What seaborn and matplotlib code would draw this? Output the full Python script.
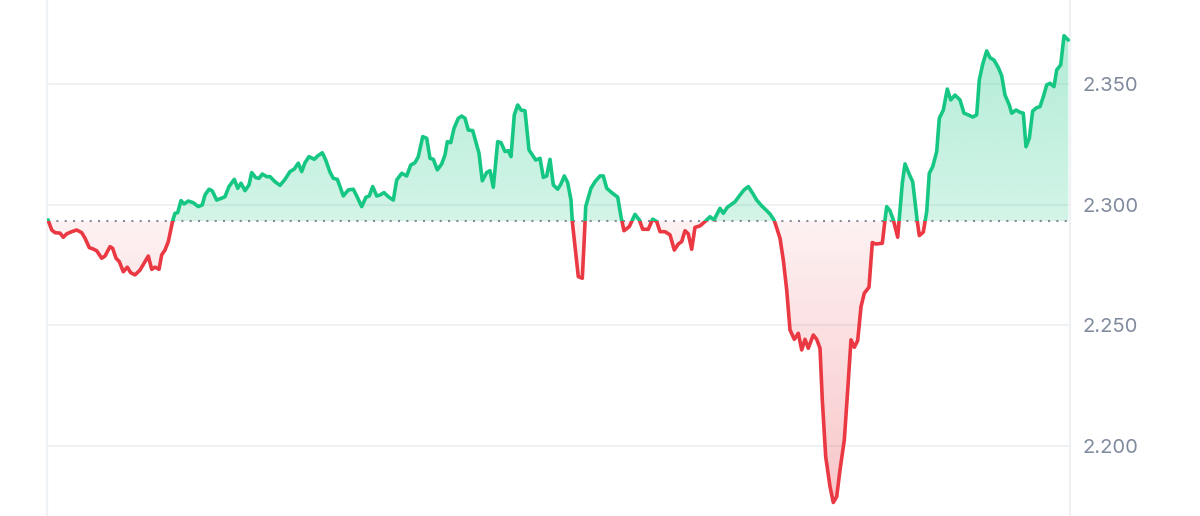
import numpy as np
import seaborn as sns
import matplotlib.pyplot as plt
from matplotlib.patches import PathPatch

# Price trace (time in chart units, price in USD)
t = [0, 3.7, 7, 12, 15.3, 18.7, 23.7, 28.7, 33.7, 37, 41.3, 45.3, 48.7, 53.7, 57, 62,
     64.7, 68, 71.3, 75.3, 79.3, 82.7, 87, 92, 97, 100.3, 103.7, 107, 111, 113.7, 117,
     120.3, 122.7, 124.7, 127, 129.7, 133, 136, 140.3, 145.3, 150.3, 154.3, 157, 161,
     164.3, 168.7, 173.7, 177, 181, 186.3, 189.7, 193, 197, 201, 203.7, 207.7, 211,
     214.3, 218.7, 222, 227, 232, 237, 242, 246.3, 250.3, 253.7, 257, 261, 266.3, 269.7,
     274.3, 277.7, 282, 285.3, 289.3, 292, 295.3, 300.3, 305.3, 308.7, 313.7, 318, 321.3,
     324.7, 328.7, 332, 336, 340.3, 345.3, 348.7, 353.7, 358.7, 362.7, 367, 370.3, 374.7,
     378.7, 382, 385.3, 389.3, 393.7, 397, 399.3, 402.7, 406, 410.3, 413.7, 417, 420.3,
     424.7, 428.7, 431, 434.3, 438.7, 442, 445.3, 449.7, 453, 457, 460.3, 463, 466.3,
     469.7, 473, 477, 481, 484.3, 487.7, 492, 495.3, 498.7, 502, 505.3, 509.7, 513,
     516.3, 519.7, 523, 524.3, 527, 530.3, 534.3, 536.3, 537.7, 543, 547, 552, 555.3,
     558.7, 563.7, 569.7, 573, 576, 581.3, 587, 591.3, 594.7, 600.3, 604.7, 608.7, 612,
     617, 622, 626.3, 630.3, 633.7, 637, 640.3, 643.7, 647, 652, 657, 662, 666, 672,
     675.3, 679.3, 687, 692, 696, 700.3, 704.7, 708.7, 713.7, 718.7, 722, 726.3, 732,
     735.3, 738.7, 742, 746.3, 750.3, 753.7, 757, 760.3, 765.3, 768.7, 772, 774.3, 777.7,
     782, 785.3, 788.7, 792, 796.3, 799.7, 803, 806.3, 809.7, 813, 816.3, 821, 824.3,
     827.7, 834.3, 837, 838.7, 842, 845.3, 849.7, 852, 854.3, 857, 862, 864.7, 867,
     869.3, 871.3, 875.3, 878.7, 881.3, 884.7, 888.7, 891.3, 895.3, 899.3, 902.7, 907,
     912, 916, 920.3, 924.7, 928.7, 931.3, 934.7, 938.7, 942, 946, 950.3, 953.7, 957,
     961.3, 963.7, 968, 972, 975.3, 978, 981.3, 984.7, 988.7, 992, 995.3, 998.7, 1002,
     1006, 1008.7, 1012.7, 1016, 1020.3]

price = [2.2937, 2.2895, 2.2884, 2.2882, 2.2865, 2.2879, 2.2888, 2.2895, 2.2884, 2.2861,
         2.2822, 2.2816, 2.2809, 2.2778, 2.2787, 2.2826, 2.2819, 2.2778, 2.2764, 2.2722,
         2.2741, 2.2718, 2.2709, 2.2729, 2.2764, 2.2787, 2.2732, 2.2741, 2.2732, 2.2792,
         2.2812, 2.2847, 2.2895, 2.2934, 2.2964, 2.2967, 2.3017, 2.3003, 2.3015, 2.3008,
         2.2992, 2.2999, 2.3040, 2.3064, 2.3057, 2.3019, 2.3027, 2.3033, 2.3075, 2.3105,
         2.3068, 2.3089, 2.3058, 2.3082, 2.3133, 2.3112, 2.3109, 2.3127, 2.3116, 2.3116,
         2.3095, 2.3080, 2.3105, 2.3137, 2.3148, 2.3172, 2.3137, 2.3174, 2.3199, 2.3188,
         2.3202, 2.3215, 2.3185, 2.3135, 2.3109, 2.3105, 2.3075, 2.3036, 2.3061, 2.3064,
         2.3036, 2.2992, 2.3031, 2.3036, 2.3075, 2.3036, 2.3040, 2.3050, 2.3033, 2.3019,
         2.3102, 2.3130, 2.3119, 2.3164, 2.3174, 2.3199, 2.3282, 2.3275, 2.3192, 2.3188,
         2.3144, 2.3169, 2.3206, 2.3261, 2.3257, 2.3316, 2.3358, 2.3367, 2.3358, 2.3309,
         2.3307, 2.3247, 2.3213, 2.3099, 2.3133, 2.3141, 2.3072, 2.3261, 2.3257, 2.3220,
         2.3224, 2.3199, 2.3372, 2.3413, 2.3392, 2.3389, 2.3227, 2.3206, 2.3185, 2.3192,
         2.3113, 2.3119, 2.3188, 2.3082, 2.3064, 2.3086, 2.3119, 2.3091, 2.3019, 2.2930,
         2.2826, 2.2702, 2.2695, 2.2861, 2.2992, 2.3068, 2.3095, 2.3119, 2.3119, 2.3068,
         2.3050, 2.3031, 2.2950, 2.2892, 2.2909, 2.2960, 2.2937, 2.2898, 2.2898, 2.2940,
         2.2930, 2.2888, 2.2888, 2.2875, 2.2812, 2.2837, 2.2847, 2.2892, 2.2879, 2.2815,
         2.2906, 2.2912, 2.2930, 2.2950, 2.2937, 2.2985, 2.2964, 2.2989, 2.3012, 2.3040,
         2.3061, 2.3075, 2.3047, 2.3019, 2.2995, 2.2975, 2.2961, 2.2934, 2.2861, 2.2771,
         2.2647, 2.2481, 2.2442, 2.2467, 2.2398, 2.2442, 2.2405, 2.2460, 2.2442, 2.2405,
         2.2191, 2.1956, 2.1832, 2.1766, 2.1790, 2.1901, 2.2025, 2.2232, 2.2440, 2.2409,
         2.2437, 2.2577, 2.2633, 2.2658, 2.2843, 2.2837, 2.2840, 2.2937, 2.2992, 2.2975,
         2.2937, 2.2865, 2.2978, 2.3089, 2.3169, 2.3119, 2.3095, 2.3012, 2.2930, 2.2872,
         2.2886, 2.2971, 2.3130, 2.3157, 2.3220, 2.3358, 2.3392, 2.3479, 2.3434, 2.3454,
         2.3434, 2.3379, 2.3372, 2.3363, 2.3372, 2.3517, 2.3582, 2.3637, 2.3609, 2.3599,
         2.3568, 2.3534, 2.3454, 2.3413, 2.3379, 2.3392, 2.3383, 2.3379, 2.3240, 2.3275,
         2.3388, 2.3402, 2.3406, 2.3447, 2.3496, 2.3503, 2.3489, 2.3558, 2.3579, 2.3700,
         2.3682]

open_price = 2.2932
y_ticks = [2.20, 2.25, 2.30, 2.35]
y_labels = ['2.200', '2.250', '2.300', '2.350']

GREEN = '#16c784'
RED = '#ea3943'
GRID = '#eff2f5'

sns.set_style('white')
plt.rcParams['font.family'] = ['Inter', 'DejaVu Sans']

fig = plt.figure(figsize=(12, 5.16), dpi=100)
ax = fig.add_axes([47 / 1200, 0, 1023 / 1200, 1])

x0, x1 = -1, 1022
y0, y1 = 2.1710, 2.3848

# gradient fills, clipped to the area between the price and the open
fill = ax.fill_between(t, price, open_price, color='none', lw=0)
clip = PathPatch(fill.get_paths()[0], transform=ax.transData,
                 facecolor='none', edgecolor='none')
ax.add_patch(clip)

n = 256
g = np.zeros((n, 2, 4))
g[..., :3] = np.array([22, 199, 132]) / 255
g[..., 3] = np.linspace(0.19, 0.36, n)[:, None]
im_g = ax.imshow(g, extent=[t[0], t[-1], open_price, y1], origin='lower',
                 aspect='auto', interpolation='bilinear', zorder=1)
im_g.set_clip_path(clip)

r = np.zeros((n, 2, 4))
r[..., :3] = np.array([234, 57, 67]) / 255
r[..., 3] = np.linspace(0.30, 0.07, n)[:, None]
im_r = ax.imshow(r, extent=[t[0], t[-1], y0, open_price], origin='lower',
                 aspect='auto', interpolation='bilinear', zorder=1)
im_r.set_clip_path(clip)

# price line, green above the open and red below it
for color, lo, hi in [(GREEN, open_price, y1), (RED, y0, open_price)]:
    n_before = len(ax.lines)
    sns.lineplot(x=t, y=price, ax=ax, color=color, lw=2.6, zorder=4)
    line = ax.lines[n_before]
    line.set_solid_joinstyle('round')
    line.set_solid_capstyle('round')
    rect = plt.Rectangle((x0, lo), x1 - x0, hi - lo, transform=ax.transData,
                         facecolor='none', edgecolor='none')
    ax.add_patch(rect)
    line.set_clip_path(rect)

# dotted opening-price line
ax.plot([t[0], t[-1]], [open_price, open_price], color='#858a96',
        lw=1.5, ls=(0, (1, 3.0)), zorder=3)

ax.set_xlim(x0, x1)
ax.set_ylim(y0, y1)
ax.set_xticks([])
ax.yaxis.tick_right()
ax.set_yticks(y_ticks)
ax.set_yticklabels(y_labels)
ax.tick_params(axis='y', length=0, pad=9, labelsize=14.5, labelcolor='#808a9d')
ax.grid(axis='y', color=GRID, lw=1.4, zorder=0)
ax.set_axisbelow(True)
ax.set_xlabel('')
ax.set_ylabel('')

for side in ['top', 'bottom']:
    ax.spines[side].set_visible(False)
for side in ['left', 'right']:
    ax.spines[side].set_visible(True)
    ax.spines[side].set_color(GRID)
    ax.spines[side].set_linewidth(1.6)

fig.savefig('out.png', dpi=100)
